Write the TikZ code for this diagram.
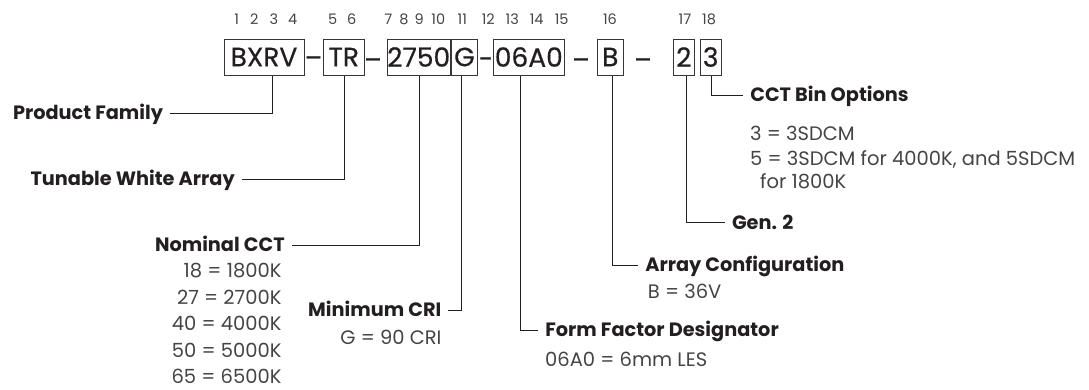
\documentclass[tikz,border=0pt]{standalone}
\usepackage{fontspec}
\setmainfont{Poppins}
\newfontfamily\boxfont{Poppins}[FakeBold=0.5]
\definecolor{ink}{HTML}{231F20}
\definecolor{soft}{HTML}{444444}
\begin{document}
\begin{tikzpicture}[x=1pt,y=-1pt,
  box/.style={draw=ink!90, line width=1pt, inner sep=0pt, minimum height=36pt,
    font=\fontsize{26.5}{26.5}\boxfont, text=ink},
  sepmark/.style={anchor=base, inner sep=0pt, font=\fontsize{26}{26}\boxfont, text=ink},
  posnum/.style={inner sep=0pt, font=\fontsize{14.5}{14.5}\selectfont, text=soft},
  lbl/.style={inner sep=0pt, outer xsep=7pt, text height=13.5pt, text depth=0pt,
    font=\fontsize{19.3}{19.3}\selectfont\bfseries, text=ink},
  val/.style={inner sep=0pt, text height=13.5pt, text depth=0pt,
    font=\fontsize{19.5}{19.5}\selectfont, text=soft},
  conn/.style={draw=ink, line width=1pt}
]
\useasboundingbox (0,0) rectangle (1089,389);

% code boxes
\node[box, minimum width=80pt]   (bxrv)  at (264,57)   {BXRV};
\node[box, minimum width=41pt]   (tr)    at (343.8,57) {TR};
\node[box, minimum width=60pt]   (cct)   at (418.7,57) {2750};
\node[box, minimum width=25.6pt] (g)     at (464.5,57) {G};
\node[box, minimum width=71pt]   (ff)    at (528.8,57) {06A0};
\node[box, minimum width=26pt]   (b)     at (610.3,57) {B};
\node[box, minimum width=21pt]   (two)   at (683.8,57) {2};
\node[box, minimum width=21.3pt] (three) at (710.7,57) {3};

% separators
\node[sepmark] (s1) at (313.5,67) {–};
\node[sepmark] (s2) at (373,69)   {–};
\node[sepmark] (s3) at (486,68)   {-};
\node[sepmark] (s4) at (581,69)   {–};
\node[sepmark] (s5) at (643,69)   {–};

% position numbers
\foreach \n/\x in {1/236.7,2/254.3,3/274,4/292.7,5/332.7,6/351.7,7/388.3,8/404,9/419.3,
  10/438.3,11/462.3,12/488.3,13/512.3,14/536.7,15/561.7,16/610,17/685,18/709}
  \node[posnum] (p\n) at (\x,19.5) {\n};

% labels
\node[lbl, anchor=east] (pf)   at (170,113)   {Product Family};
\node[lbl, anchor=east] (twa)  at (241.7,179) {Tunable White Array};
\node[lbl, anchor=east] (ncct) at (291.7,245) {Nominal CCT};
\node[lbl, anchor=east] (mcri) at (448.3,310) {Minimum CRI};
\node[lbl, anchor=west] (ffd)  at (538.3,330) {Form Factor Designator};
\node[lbl, anchor=west] (ac)   at (638.3,265) {Array Configuration};
\node[lbl, anchor=west] (gen)  at (725,222.7) {Gen. 2};
\node[lbl, anchor=west] (cbo)  at (743.3,95)  {CCT Bin Options};

% values
\node[val, anchor=east] (v18) at (281.7,271)   {18 = 1800K};
\node[val, anchor=east] (v27) at (281.7,297.5) {27 = 2700K};
\node[val, anchor=east] (v40) at (281.7,324)   {40 = 4000K};
\node[val, anchor=east] (v50) at (281.7,350.5) {50 = 5000K};
\node[val, anchor=east] (v65) at (281.7,377)   {65 = 6500K};
\node[val, anchor=east] (vg)  at (441.7,338)   {G = 90 CRI};
\node[val, anchor=west] (vff) at (545,360)     {06A0 = 6mm LES};
\node[val, anchor=west] (vb)  at (647.7,291.7) {B = 36V};
\node[val, anchor=west] (vc3) at (750,133.3)   {3 = 3SDCM};
\node[val, anchor=west] (vc5) at (750,158.3)   {5 = 3SDCM for 4000K, and 5SDCM};
\node[val, anchor=west] (vc5b) at (760,181.7)  {for 1800K};

% connectors
\draw[conn] ([xshift=8.7pt]bxrv.south) |- (pf.east);
\draw[conn] ([xshift=0.9pt]tr.south) |- (twa.east);
\draw[conn] ([xshift=0.6pt]cct.south) |- (ncct.east);
\draw[conn] ([xshift=-3.5pt]g.south) |- (mcri.east);
\draw[conn] ([xshift=-8.8pt]ff.south) |- (ffd.west);
\draw[conn] ([xshift=2.4pt]b.south) |- (ac.west);
\draw[conn] ([xshift=2.9pt]two.south) |- (gen.west);
\draw[conn] ([xshift=1pt]three.south) |- (cbo.west);
\end{tikzpicture}
\end{document}
